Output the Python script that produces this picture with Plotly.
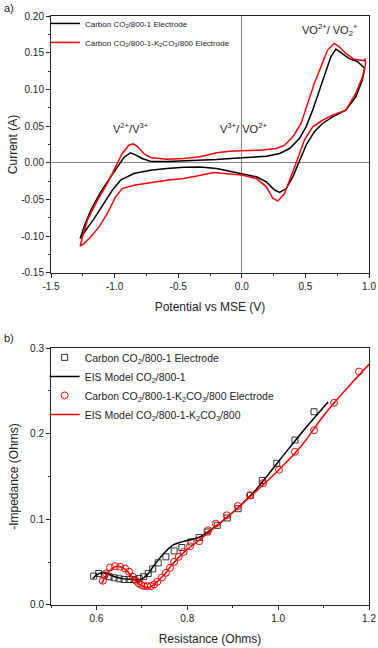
import plotly.graph_objects as go

# ---- panel a: cyclic voltammetry (anodic sweep then cathodic return) ----
cv_black_x = [-1.271, -1.24, -1.188, -1.109, -1.031, -0.979, -0.927, -0.875, -0.836, -0.784,
              -0.719, -0.589, -0.458, -0.328, -0.198, 0.0, 0.193, 0.297, 0.375, 0.453,
              0.505, 0.557, 0.609, 0.661, 0.70, 0.74, 0.778, 0.844, 0.909, 0.966,
              0.948, 0.896, 0.818, 0.714, 0.635, 0.570, 0.505, 0.453, 0.401, 0.349,
              0.297, 0.258, 0.193, 0.115, 0.0, -0.198, -0.328, -0.458, -0.589, -0.719,
              -0.849, -0.953, -1.018, -1.083, -1.161, -1.227, -1.271]
cv_black_y = [-0.103, -0.087, -0.0645, -0.0395, -0.019, -0.0055, 0.0073, 0.0136, 0.0109, 0.0059,
              0.0023, 0.0018, 0.0027, 0.0032, 0.0045, 0.0068, 0.009, 0.0127, 0.0195, 0.033,
              0.049, 0.0718, 0.099, 0.126, 0.1445, 0.155, 0.150, 0.142, 0.138, 0.1286,
              0.1127, 0.090, 0.0718, 0.0627, 0.0536, 0.0423, 0.024, 0.0014, -0.019, -0.035,
              -0.0404, -0.037, -0.026, -0.019, -0.015, -0.0077, -0.0055, -0.006, -0.0077, -0.010,
              -0.0145, -0.0236, -0.0373, -0.0554, -0.0759, -0.0918, -0.103]

cv_red_x = [-1.271, -1.253, -1.214, -1.135, -1.057, -0.992, -0.940, -0.888, -0.854, -0.823,
            -0.771, -0.719, -0.589, -0.458, -0.328, -0.198, -0.094, 0.0, 0.141, 0.271,
            0.336, 0.401, 0.466, 0.518, 0.570, 0.622, 0.674, 0.727, 0.766, 0.818,
            0.883, 0.961, 0.969, 0.974, 0.948, 0.896, 0.818, 0.714, 0.635, 0.557,
            0.492, 0.44, 0.388, 0.336, 0.284, 0.245, 0.193, 0.115, 0.0, -0.094,
            -0.224, -0.354, -0.458, -0.589, -0.719, -0.849, -0.940, -0.992, -1.057, -1.122,
            -1.188, -1.24, -1.271]
cv_red_y = [-0.1136, -0.101, -0.078, -0.051, -0.028, -0.0055, 0.0127, 0.024, 0.026, 0.0227,
            0.0127, 0.0073, 0.005, 0.0059, 0.0082, 0.0136, 0.0159, 0.0164, 0.0173, 0.0195,
            0.024, 0.0354, 0.0536, 0.081, 0.108, 0.131, 0.1536, 0.1627, 0.158, 0.149,
            0.141, 0.139, 0.142, 0.135, 0.117, 0.0945, 0.0718, 0.065, 0.058, 0.049,
            0.031, 0.0059, -0.019, -0.0418, -0.0518, -0.0486, -0.0327, -0.0214, -0.0165, -0.0155,
            -0.0132, -0.018, -0.0214, -0.0236, -0.0273, -0.0304, -0.035, -0.0463, -0.069, -0.0872,
            -0.1009, -0.11, -0.1136]

# ---- panel b: Nyquist data and EIS models ----
eis_sq_x = [0.594, 0.605, 0.617, 0.628, 0.639, 0.650, 0.661, 0.672, 0.683, 0.694,
            0.704, 0.714, 0.724, 0.736, 0.753, 0.771, 0.788, 0.808, 0.826, 0.844,
            0.866, 0.888, 0.912, 0.939, 0.965, 0.997, 1.037, 1.079]
eis_sq_y = [0.0337, 0.0368, 0.0349, 0.033, 0.0318, 0.0306, 0.0298, 0.0298, 0.0298, 0.031,
            0.033, 0.0368, 0.0422, 0.0492, 0.0562, 0.0632, 0.0671, 0.0736, 0.0787, 0.0853,
            0.093, 0.1016, 0.1124, 0.128, 0.1453, 0.1655, 0.1926, 0.2256]

model_black_x = [0.592, 0.60, 0.61, 0.622, 0.64, 0.66, 0.68, 0.695, 0.705, 0.715,
                 0.725, 0.74, 0.755, 0.77, 0.79, 0.81, 0.83, 0.85, 0.9, 0.95,
                 1.0, 1.05, 1.11]
model_black_y = [0.031, 0.035, 0.0375, 0.037, 0.033, 0.0305, 0.0298, 0.0295, 0.032, 0.037,
                 0.045, 0.055, 0.064, 0.0705, 0.074, 0.0765, 0.080, 0.087, 0.108, 0.134,
                 0.167, 0.2, 0.237]

eis_ci_x = [0.614, 0.621, 0.630, 0.641, 0.652, 0.663, 0.672, 0.680, 0.687, 0.693,
            0.699, 0.705, 0.712, 0.720, 0.727, 0.734, 0.744, 0.753, 0.762, 0.771,
            0.781, 0.792, 0.806, 0.826, 0.846, 0.863, 0.887, 0.911, 0.938, 0.967,
            1.002, 1.037, 1.079, 1.123, 1.178]
eis_ci_y = [0.0283, 0.0368, 0.0438, 0.0453, 0.0446, 0.0426, 0.0388, 0.033, 0.0283, 0.0252,
            0.0233, 0.0221, 0.0221, 0.0221, 0.024, 0.0271, 0.0322, 0.0376, 0.0434, 0.0504,
            0.0562, 0.062, 0.0686, 0.0744, 0.0872, 0.095, 0.1047, 0.1155, 0.128, 0.1422,
            0.158, 0.179, 0.204, 0.236, 0.2725]

model_red_x = [0.612, 0.625, 0.64, 0.652, 0.665, 0.68, 0.695, 0.71, 0.722, 0.735,
               0.75, 0.765, 0.78, 0.8, 0.82, 0.85, 0.9, 0.95, 1.0, 1.05,
               1.1, 1.15, 1.2]
model_red_y = [0.025, 0.038, 0.0445, 0.0446, 0.041, 0.032, 0.024, 0.0205, 0.022, 0.028,
               0.036, 0.046, 0.055, 0.065, 0.073, 0.086, 0.108, 0.132, 0.157, 0.185,
               0.221, 0.252, 0.281]

a_yticks = [-0.15, -0.10, -0.05, 0.0, 0.05, 0.10, 0.15, 0.20]
a_yticktext = ["-0.15", "-0.10", "-0.05", "0.00", "0.05", "0.10", "0.15", "0.20"]
a_xticks = [-1.5, -1.0, -0.5, 0.0, 0.5, 1.0]
a_xticktext = ["-1.5", "-1.0", "-0.5", "0.0", "0.5", "1.0"]

FONT = "Arial, 'Liberation Sans', sans-serif"
AX = "#222222"

fig = go.Figure()

fig.add_trace(go.Scatter(x=cv_black_x, y=cv_black_y, mode="lines",
                         line=dict(color="black", width=1.5),
                         name="Carbon CO<sub>2</sub>/800-1 Electrode",
                         xaxis="x", yaxis="y", legend="legend"))
fig.add_trace(go.Scatter(x=cv_red_x, y=cv_red_y, mode="lines",
                         line=dict(color="#ff0000", width=1.5),
                         name="Carbon CO<sub>2</sub>/800-1-K<sub>2</sub>CO<sub>3</sub>/800 Electrode",
                         xaxis="x", yaxis="y", legend="legend"))

fig.add_trace(go.Scatter(x=eis_sq_x, y=eis_sq_y, mode="markers",
                         marker=dict(symbol="square-open", size=6, color="#333333",
                                     line=dict(width=1)),
                         name="Carbon CO<sub>2</sub>/800-1 Electrode",
                         xaxis="x2", yaxis="y2", legend="legend2"))
fig.add_trace(go.Scatter(x=model_black_x, y=model_black_y, mode="lines",
                         line=dict(color="black", width=1.5, shape="spline"),
                         name="EIS Model CO<sub>2</sub>/800-1",
                         xaxis="x2", yaxis="y2", legend="legend2"))
fig.add_trace(go.Scatter(x=eis_ci_x, y=eis_ci_y, mode="markers",
                         marker=dict(symbol="circle-open", size=7, color="#ff0000",
                                     line=dict(width=1)),
                         name="Carbon CO<sub>2</sub>/800-1-K<sub>2</sub>CO<sub>3</sub>/800 Electrode",
                         xaxis="x2", yaxis="y2", legend="legend2"))
fig.add_trace(go.Scatter(x=model_red_x, y=model_red_y, mode="lines",
                         line=dict(color="#ff0000", width=1.5, shape="spline"),
                         name="EIS Model CO<sub>2</sub>/800-1-K<sub>2</sub>CO<sub>3</sub>/800",
                         xaxis="x2", yaxis="y2", legend="legend2"))

axis_common = dict(showline=True, linecolor=AX, linewidth=1, mirror=True,
                   ticks="outside", ticklen=4, tickcolor=AX, showgrid=False,
                   tickfont=dict(size=10, color=AX), automargin=False,
                   title_font=dict(size=12, color=AX))

fig.update_layout(
    width=378, height=648,
    margin=dict(l=51, r=9, t=16, b=43),
    paper_bgcolor="white", plot_bgcolor="white",
    font=dict(family=FONT, color=AX),
    xaxis=dict(axis_common, domain=[0, 1], anchor="y", range=[-1.5, 1.0],
               tickvals=a_xticks, ticktext=a_xticktext,
               minor=dict(dtick=0.25, ticks="outside", ticklen=2, tickcolor=AX),
               zeroline=True, zerolinecolor="#808080", zerolinewidth=1,
               title=dict(text="Potential vs MSE (V)", standoff=11)),
    yaxis=dict(axis_common, domain=[0.5637, 1], anchor="x", range=[-0.15, 0.20],
               tickvals=a_yticks, ticktext=a_yticktext,
               minor=dict(dtick=0.025, ticks="outside", ticklen=2, tickcolor=AX),
               zeroline=True, zerolinecolor="#808080", zerolinewidth=1,
               title=dict(text="Current (A)", standoff=0)),
    xaxis2=dict(axis_common, domain=[0, 1], anchor="y2", range=[0.5, 1.2],
                tickvals=[0.6, 0.8, 1.0, 1.2], ticktext=["0.6", "0.8", "1.0", "1.2"],
                minor=dict(dtick=0.1, ticks="outside", ticklen=2, tickcolor=AX),
                zeroline=False,
                title=dict(text="Resistance (Ohms)", standoff=11)),
    yaxis2=dict(axis_common, domain=[0, 0.4363], anchor="x2", range=[0, 0.3],
                tickvals=[0.0, 0.1, 0.2, 0.3], ticktext=["0.0", "0.1", "0.2", "0.3"],
                minor=dict(dtick=0.05, ticks="outside", ticklen=2, tickcolor=AX),
                zeroline=False,
                title=dict(text="-Impedance (Ohms)", standoff=8)),
    legend=dict(x=-0.019, y=1.012, xanchor="left", yanchor="top",
                bgcolor="rgba(0,0,0,0)", font=dict(size=8, color=AX),
                itemwidth=30, tracegroupgap=0),
    legend2=dict(x=-0.02, y=0.445, xanchor="left", yanchor="top",
                 bgcolor="rgba(0,0,0,0)", font=dict(size=10.5, color=AX),
                 itemwidth=30, tracegroupgap=0),
)

# peak labels
fig.add_annotation(x=-0.875, y=0.047, xref="x", yref="y", showarrow=False,
                   text="V<sup>2+</sup>/V<sup>3+</sup>", font=dict(size=11, color=AX))
fig.add_annotation(x=0.016, y=0.047, xref="x", yref="y", showarrow=False,
                   text="V<sup>3+</sup>/ VO<sup>2+</sup>", font=dict(size=11, color=AX))
fig.add_annotation(x=0.69, y=0.181, xref="x", yref="y", showarrow=False,
                   text="VO<sup>2+</sup>/ VO<sub>2</sub><sup>+</sup>", font=dict(size=11, color=AX))

# panel letters
fig.add_annotation(x=-0.155, y=1.0, xref="paper", yref="paper", xanchor="left", yanchor="bottom",
                   showarrow=False, text="a)", font=dict(size=11, color=AX))
fig.add_annotation(x=-0.155, y=0.4363, xref="paper", yref="paper", xanchor="left", yanchor="bottom",
                   yshift=2, showarrow=False, text="b)", font=dict(size=11, color=AX))

# drop the browser's default body margin so the figure sits at the page corner
fig.write_html("out.html", config={"displayModeBar": False},
               post_script="document.body.style.margin='0';")
